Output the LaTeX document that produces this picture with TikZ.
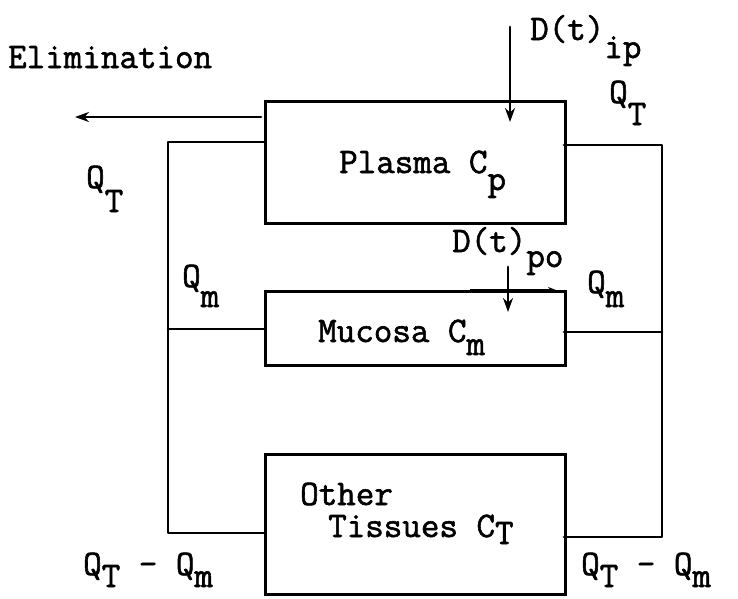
\documentclass[tikz,border=0pt]{standalone}
\usepackage{fontspec}
\setmonofont[AutoFakeBold=1.6]{Latin Modern Mono}
\usetikzlibrary{arrows.meta}
\tikzset{
  wire/.style={line width=2.8pt, line cap=round, line join=round},
  arr/.style={wire, -{Stealth[length=14pt,width=10pt]}},
  box/.style={draw, line width=2.8pt, inner sep=0pt, anchor=north west},
  lbl/.style={inner sep=0pt, anchor=base west, font=\fontsize{36}{40}\selectfont\ttfamily\bfseries}
}
\newcommand{\lowr}[2]{\raisebox{-#1pt}{#2}}
\begin{document}
\begin{tikzpicture}[x=1pt,y=-1pt]
\useasboundingbox (0,0) rectangle (738,598);
% boxes
\node[box, minimum width=300pt, minimum height=122pt] (plasma) at (264,100) {};
\node[box, minimum width=300pt, minimum height=74pt] (mucosa) at (264,290) {};
\node[box, minimum width=300pt, minimum height=140pt] (other) at (264,453) {};
% box texts
\node[lbl] (tplasma) at (339,173) {Plasma C\lowr{17}{p}};
\node[lbl] (tmucosa) at (318,342) {Mucosa C\lowr{13}{m}};
\node[lbl] (tother) at (300,505) {Other};
\node[lbl] (ttissues) at (328,537) {Tissues C\lowr{7}{T}};
% labels
\node[lbl] (elim) at (8,68) {Elimination};
\node[lbl] (dip) at (530,40) {D(t)\lowr{18}{ip}};
\node[lbl] (dpo) at (452,252) {D(t)\lowr{15}{po}};
\node[lbl] (qtr) at (609,103) {Q\lowr{22}{T}};
\node[lbl] (qtl) at (86,188) {Q\lowr{24}{T}};
\node[lbl] (qml) at (182,287) {Q\lowr{20}{m}};
\node[lbl] (qmr) at (587,293) {Q\lowr{14}{m}};
\node[lbl] (qql) at (83,575) {Q\lowr{12}{T} - Q\lowr{12}{m}};
\node[lbl] (qqr) at (581,575) {Q\lowr{12}{T} - Q\lowr{12}{m}};
% coordinates
\coordinate (elimS) at (261,117);
\coordinate (elimE) at (75,117);
\coordinate (plL) at (264,142);
\coordinate (L1) at (168,142);
\coordinate (Lm) at (168,329);
\coordinate (muL) at (264,329);
\coordinate (L2) at (168,533);
\coordinate (otL) at (264,533);
\coordinate (plR) at (564,145);
\coordinate (R1) at (662,145);
\coordinate (Rm) at (662,332);
\coordinate (muR) at (564,332);
\coordinate (R2) at (662,537);
\coordinate (otR) at (564,537);
\coordinate (ipS) at (510,27);
\coordinate (ipE) at (510,122);
\coordinate (poS) at (508,267);
\coordinate (poE) at (508,312);
\coordinate (muA) at (470,290);
\coordinate (muB) at (556,290);
% connectors
\draw[arr] (elimS) -- (elimE);
\draw[wire] (plL) -- (L1) -- (L2) -- (otL);
\draw[wire] (Lm) -- (muL);
\draw[wire] (plR) -- (R1) -- (R2) -- (otR);
\draw[wire] (Rm) -- (muR);
\draw[arr] (ipS) -- (ipE);
\draw[arr] (poS) -- (poE);
\draw[line width=1.6pt, -{Stealth[length=8pt,width=6pt]}] (muA) -- (muB);
\end{tikzpicture}
\end{document}
